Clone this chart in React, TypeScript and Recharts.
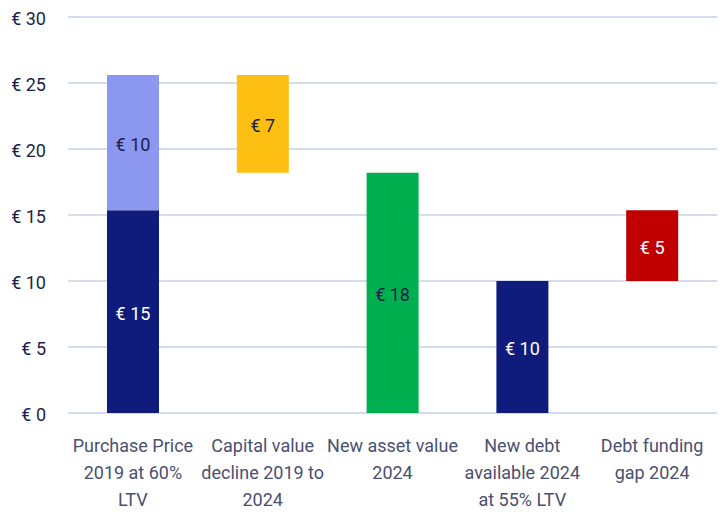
import React from 'react';
import { BarChart, Bar, XAxis, YAxis, CartesianGrid, Cell, LabelList } from 'recharts';

const categories = [
  'Purchase Price 2019 at 60% LTV',
  'Capital value decline 2019 to 2024',
  'New asset value 2024',
  'New debt available 2024 at 55% LTV',
  'Debt funding gap 2024',
];
const categoryLines = [
  ['Purchase Price', '2019 at 60%', 'LTV'],
  ['Capital value', 'decline 2019 to', '2024'],
  ['New asset value', '2024'],
  ['New debt', 'available 2024', 'at 55% LTV'],
  ['Debt funding', 'gap 2024'],
];
const baseValues = [0, 18.2, 0, 0, 10];
const mainValues = [15.36, 7.4, 18.2, 10, 5.36];
const topValues = [10.24, 0, 0, 0, 0];
const mainLabels = ['€ 15', '€ 7', '€ 18', '€ 10', '€ 5'];
const topLabels = ['€ 10', '', '', '', ''];
const mainColors = ['#101c7c', '#fdbf12', '#00b04f', '#101c7c', '#c00000'];
const mainLabelColors = ['#ffffff', '#1b1f4b', '#1b1f4b', '#ffffff', '#ffffff'];
const yTicks = [0, 5, 10, 15, 20, 25, 30];

const data = categories.map((name, i) => ({
  name,
  idx: i,
  base: baseValues[i],
  main: mainValues[i],
  top: topValues[i],
}));

const FONT = 'Roboto, sans-serif';

const XTick = (props: any) => {
  const { x, y, payload } = props;
  const lines = categoryLines[payload.index] || [payload.value];
  return (
    <g transform={`translate(${x},${y})`}>
      {lines.map((ln, k) => (
        <text key={k} x={0} y={27 * k} dy={31} textAnchor="middle" fill="#4a5070" fontSize={18} fontFamily={FONT}>
          {ln}
        </text>
      ))}
    </g>
  );
};

const makeLabel = (labels: string[], colors: string[]) => (props: any) => {
  const { x, y, width, height, index } = props;
  const t = labels[index];
  if (!t) return null;
  return (
    <text x={x + width / 2} y={y + height / 2} dy={8} textAnchor="middle" fill={colors[index]} fontSize={18} fontFamily={FONT}>
      {t}
    </text>
  );
};

export default function App() {
  return (
    <div style={{ position: 'absolute', left: 0, top: 0, background: '#fff' }}>
      <BarChart width={724} height={516} data={data} margin={{ top: 17, right: 7, bottom: 8, left: 0 }} barCategoryGap={0}>
        <CartesianGrid vertical={false} stroke="#d6dcef" strokeWidth={2} />
        <XAxis
          dataKey="name"
          axisLine={false}
          tickLine={false}
          interval={0}
          height={95}
          tick={<XTick />}
        />
        <YAxis
          width={68}
          domain={[0, 30]}
          ticks={yTicks}
          axisLine={false}
          tickLine={false}
          tickSize={0}
          tickMargin={22}
          tickFormatter={(v: number) => `€ ${v}`}
          tick={{ fill: '#1b1f4b', fontSize: 18, fontFamily: FONT, dy: 2 }}
        />
        <Bar dataKey="base" stackId="a" fill="transparent" barSize={52} isAnimationActive={false} />
        <Bar dataKey="main" stackId="a" barSize={52} isAnimationActive={false}>
          {data.map((d, i) => (
            <Cell key={`m-${i}`} fill={mainColors[i]} />
          ))}
          <LabelList content={makeLabel(mainLabels, mainLabelColors)} />
        </Bar>
        <Bar dataKey="top" stackId="a" fill="#8c98f0" barSize={52} isAnimationActive={false}>
          <LabelList content={makeLabel(topLabels, ['#1b1f4b', '', '', '', ''])} />
        </Bar>
      </BarChart>
    </div>
  );
}
